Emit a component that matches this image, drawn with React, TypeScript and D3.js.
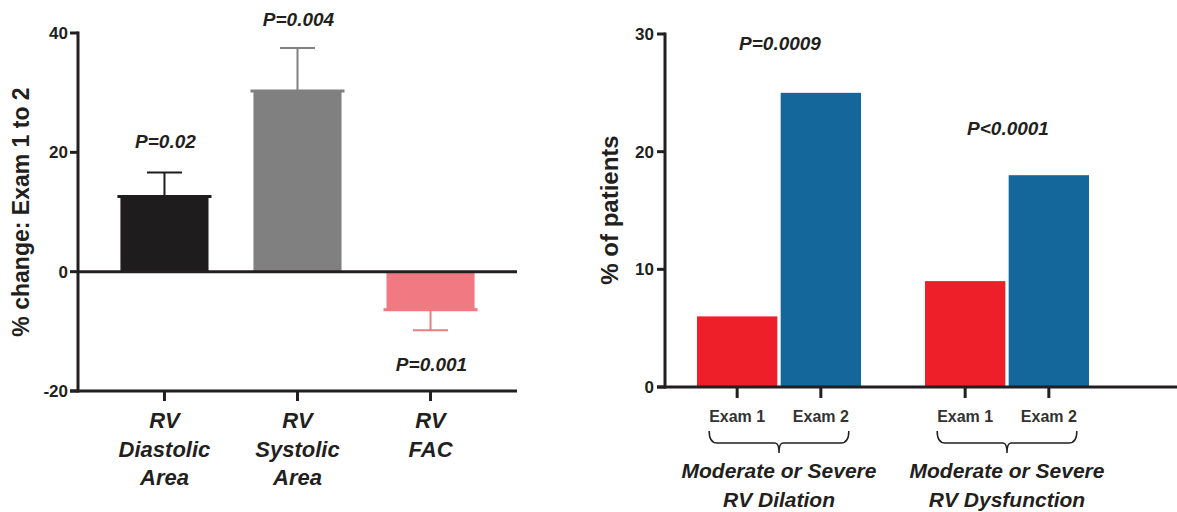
import React from 'react';
import * as d3 from 'd3';

// Left panel: % change exam 1 -> 2
const changeCategories = ['Diastolic', 'Systolic', 'FAC'];
const changeLabels = [['RV', 'Diastolic', 'Area'], ['RV', 'Systolic', 'Area'], ['RV', 'FAC']];
const changeValues = [12.6, 30.3, -6.4];
const changeErrors = [16.6, 37.5, -9.8];
const changeP = ['P=0.02', 'P=0.004', 'P=0.001'];
const changeColors = ['#1e1c1d', '#7f807f', '#f17a82'];
const changeTicks = [-20, 0, 20, 40];

// Right panel: % of patients
const groups = ['Dilation', 'Dysfunction'];
const groupLabels = [['Moderate or Severe', 'RV Dilation'], ['Moderate or Severe', 'RV Dysfunction']];
const exams = ['Exam 1', 'Exam 2'];
const exam1Values = [6.0, 9.0];
const exam2Values = [25.0, 18.0];
const groupP = ['P=0.0009', 'P<0.0001'];
const examColors = ['#ee1f28', '#13679b'];
const patientTicks = [0, 10, 20, 30];

const FONT = '"Liberation Sans", Arial, sans-serif';
const INK = '#231f20';

function LeftChart() {
    const x0 = 78, x1 = 517;
    const y = d3.scaleLinear().domain([-20, 40]).range([391, 33]);
    const x = d3.scaleBand<string>()
        .domain(changeCategories)
        .range([x0, x1])
        .paddingInner(0.338)
        .paddingOuter(0.319);
    const bw = x.bandwidth();
    const capW = 35;
    const pBase = [148, 26, 371];

    return (
        <g>
            {changeCategories.map((c, i) => {
                const v = changeValues[i];
                const bx = x(c)!;
                const top = Math.min(y(v), y(0));
                const h = Math.abs(y(v) - y(0));
                const cx = bx + bw / 2;
                const col = changeColors[i];
                return (
                    <g key={c}>
                        <line x1={cx} x2={cx} y1={y(v)} y2={y(changeErrors[i])} stroke={col} strokeWidth={2} />
                        <line x1={cx - capW / 2} x2={cx + capW / 2} y1={y(changeErrors[i])} y2={y(changeErrors[i])} stroke={col} strokeWidth={2} />
                        <rect x={bx} y={top} width={bw} height={h} fill={col} />
                        <line x1={bx - 3} x2={bx + bw + 3} y1={y(v)} y2={y(v)} stroke={col} strokeWidth={3} />
                    </g>
                );
            })}
            {/* zero line */}
            <line x1={x0} x2={x1} y1={y(0)} y2={y(0)} stroke={INK} strokeWidth={3} />
            {/* y axis */}
            <line x1={x0} x2={x0} y1={y(40) - 1.5} y2={y(-20) + 1.5} stroke={INK} strokeWidth={3} />
            {changeTicks.map(t => (
                <g key={t}>
                    <line x1={x0 - 8} x2={x0} y1={y(t)} y2={y(t)} stroke={INK} strokeWidth={3} />
                    <text x={x0 - 10} y={y(t)} dy="0.36em" textAnchor="end" fontSize={17} fontWeight="bold" fill={INK} fontFamily={FONT}>{t}</text>
                </g>
            ))}
            {/* bottom axis */}
            <line x1={x0 - 8} x2={x1} y1={y(-20)} y2={y(-20)} stroke={INK} strokeWidth={3} />
            {changeCategories.map((c, i) => {
                const cx = x(c)! + bw / 2;
                return (
                    <g key={c}>
                        <line x1={cx} x2={cx} y1={y(-20)} y2={y(-20) + 10} stroke={INK} strokeWidth={3} />
                        {changeLabels[i].map((l, j) => (
                            <text key={j} x={cx} y={428 + j * 28.5} textAnchor="middle" fontSize={22} fontWeight="bold" fontStyle="italic" fill={INK} fontFamily={FONT}>{l}</text>
                        ))}
                    </g>
                );
            })}
            {/* p values */}
            {changeCategories.map((c, i) => {
                const cx = x(c)! + bw / 2 + 1;
                return (
                    <text key={c} x={cx} y={pBase[i]} textAnchor="middle" fontSize={19} fontWeight="bold" fontStyle="italic" fill={INK} fontFamily={FONT}>{changeP[i]}</text>
                );
            })}
            <text transform={`translate(29,212) rotate(-90)`} textAnchor="middle" fontSize={23} fontWeight="bold" fill={INK} fontFamily={FONT}>% change: Exam 1 to 2</text>
        </g>
    );
}

function RightChart() {
    const x0 = 665, x1 = 1177;
    const y = d3.scaleLinear().domain([0, 30]).range([387, 34]);
    const gx = d3.scalePoint<string>().domain(groups).range([665, 1121]).padding(0.5);
    const ix = d3.scaleBand<string>().domain(exams).range([-82, 82]).paddingInner(0.04);
    const bw = ix.bandwidth();
    const series = [exam1Values, exam2Values];
    const pBase = [50, 135];

    return (
        <g>
            {groups.map((g, gi) => (
                <g key={g}>
                    {exams.map((e, ei) => {
                        const v = series[ei][gi];
                        const bx = gx(g)! + ix(e)!;
                        return <rect key={e} x={bx} y={y(v)} width={bw} height={y(0) - y(v)} fill={examColors[ei]} />;
                    })}
                </g>
            ))}
            {/* y axis */}
            <line x1={x0} x2={x0} y1={y(30) - 1.5} y2={y(0) + 1.5} stroke={INK} strokeWidth={3} />
            {patientTicks.map(t => (
                <g key={t}>
                    <line x1={x0 - 8} x2={x0} y1={y(t)} y2={y(t)} stroke={INK} strokeWidth={3} />
                    <text x={x0 - 11} y={y(t)} dy="0.36em" textAnchor="end" fontSize={17} fontWeight="bold" fill={INK} fontFamily={FONT}>{t}</text>
                </g>
            ))}
            <line x1={x0 - 8} x2={x1} y1={y(0)} y2={y(0)} stroke={INK} strokeWidth={3} />
            {groups.map((g, gi) => {
                const c = gx(g)!;
                const l = c + ix(exams[0])! + bw / 2 - 28;
                const r = c + ix(exams[1])! + bw / 2 + 28;
                const by = 431, bh = 12;
                const brace = `M${l},${by} Q${l},${by + bh} ${l + 8},${by + bh} L${c - 4},${by + bh} Q${c},${by + bh} ${c},${by + bh + 10} Q${c},${by + bh} ${c + 4},${by + bh} L${r - 8},${by + bh} Q${r},${by + bh} ${r},${by}`;
                return (
                    <g key={g}>
                        {exams.map(e => {
                            const cx = c + ix(e)! + bw / 2;
                            return (
                                <g key={e}>
                                    <line x1={cx} x2={cx} y1={y(0)} y2={y(0) + 11} stroke={INK} strokeWidth={3} />
                                    <text x={cx} y={422} textAnchor="middle" fontSize={16} fontWeight="bold" fill="#333" fontFamily={FONT}>{e}</text>
                                </g>
                            );
                        })}
                        <path d={brace} fill="none" stroke={INK} strokeWidth={1.5} />
                        {groupLabels[gi].map((t, j) => (
                            <text key={j} x={c} y={478 + j * 29} textAnchor="middle" fontSize={21} fontWeight="bold" fontStyle="italic" fill={INK} fontFamily={FONT}>{t}</text>
                        ))}
                        <text x={c + 1} y={pBase[gi]} textAnchor="middle" fontSize={19} fontWeight="bold" fontStyle="italic" fill={INK} fontFamily={FONT}>{groupP[gi]}</text>
                    </g>
                );
            })}
            <text transform={`translate(618,210) rotate(-90)`} textAnchor="middle" fontSize={24} fontWeight="bold" fill={INK} fontFamily={FONT}>% of patients</text>
        </g>
    );
}

export default function App() {
    return (
        <svg width={1177} height={512} style={{ position: 'absolute', left: 0, top: 0, background: '#fff' }}>
            <LeftChart />
            <RightChart />
        </svg>
    );
}
